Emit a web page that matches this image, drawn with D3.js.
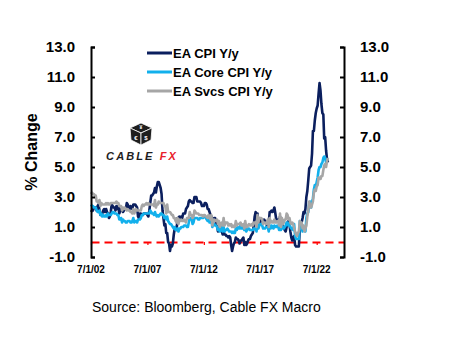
<!DOCTYPE html>
<html>
<head>
<meta charset="utf-8">
<script src="https://cdn.jsdelivr.net/npm/d3@7"></script>
<style>
  html, body { margin: 0; padding: 0; background: #fff; }
  svg { display: block; font-family: "Liberation Sans", Arial, sans-serif; }
</style>
</head>
<body>
<svg id="chart" width="454" height="341"></svg>
<script>
// ---------- DATA (monthly, starting Jul 2002) ----------
const startMonth = "2002-07-01";
const seriesNames = ["EA CPI Y/y", "EA Core CPI Y/y", "EA Svcs CPI Y/y"];
const xTickLabels = ["7/1/02", "7/1/07", "7/1/12", "7/1/17", "7/1/22"];
const yTickValues = [-1, 1, 3, 5, 7, 9, 11, 13];

const cpiValues = [
  2.0, 2.1, 2.1, 2.3, 2.3, 2.3,
  2.1, 2.4, 2.5, 2.1, 1.8, 1.9, 1.9, 2.1, 2.2, 2.0, 2.2, 2.0,
  1.9, 1.6, 1.7, 2.0, 2.5, 2.4, 2.3, 2.3, 2.1, 2.4, 2.2, 2.4,
  1.9, 2.1, 2.2, 2.1, 2.0, 2.1, 2.2, 2.2, 2.6, 2.5, 2.3, 2.2,
  2.4, 2.3, 2.2, 2.5, 2.5, 2.5, 2.4, 2.3, 1.7, 1.6, 1.9, 1.9,
  1.8, 1.8, 1.9, 1.9, 1.9, 1.9, 1.8, 1.7, 2.1, 2.6, 3.1, 3.1,
  3.2, 3.3, 3.6, 3.3, 3.7, 4.0, 4.0, 3.8, 3.6, 3.2, 2.1, 1.6,
  1.1, 1.2, 0.6, 0.6, 0.0, -0.1, -0.6, -0.2, -0.3, -0.1, 0.5, 0.9,
  1.0, 0.8, 1.6, 1.6, 1.7, 1.5, 1.7, 1.6, 1.9, 1.9, 1.9, 2.2,
  2.3, 2.4, 2.7, 2.8, 2.7, 2.7, 2.6, 2.6, 3.0, 3.0, 3.0, 2.7,
  2.7, 2.7, 2.7, 2.6, 2.4, 2.4, 2.4, 2.6, 2.6, 2.5, 2.2, 2.2,
  2.0, 1.8, 1.7, 1.2, 1.4, 1.6, 1.6, 1.3, 1.1, 0.7, 0.9, 0.8,
  0.8, 0.7, 0.5, 0.7, 0.5, 0.5, 0.4, 0.4, 0.3, 0.4, 0.3, -0.2,
  -0.6, -0.3, -0.1, 0.0, 0.3, 0.2, 0.2, 0.1, -0.1, 0.1, 0.1, 0.2,
  0.3, -0.2, 0.0, -0.2, -0.1, 0.1, 0.2, 0.2, 0.4, 0.5, 0.6, 1.1,
  1.7, 2.0, 1.5, 1.9, 1.4, 1.3, 1.3, 1.5, 1.5, 1.4, 1.5, 1.4,
  1.3, 1.1, 1.4, 1.3, 2.0, 2.0, 2.1, 2.0, 2.1, 2.3, 1.9, 1.5,
  1.4, 1.5, 1.4, 1.7, 1.2, 1.3, 1.0, 1.0, 0.8, 0.7, 1.0, 1.3,
  1.4, 1.2, 0.7, 0.3, 0.1, 0.3, 0.4, -0.2, -0.3, -0.3, -0.3, -0.3,
  0.9, 0.9, 1.3, 1.6, 2.0, 1.9, 2.2, 3.0, 3.4, 4.1, 4.9, 5.0,
  5.1, 5.9, 7.4, 7.4, 8.1, 8.6, 8.9, 9.1, 9.9, 10.6, 10.1, 9.2,
  8.6, 8.5, 6.9, 7.0, 6.1, 5.5, 5.3
];

const coreValues = [
  2.5, 2.4, 2.4, 2.3, 2.3, 2.3,
  2.1, 2.0, 2.0, 2.1, 1.8, 1.9, 1.7, 1.8, 1.7, 1.7, 1.8, 1.7,
  1.9, 1.8, 1.8, 1.8, 1.9, 2.0, 2.0, 1.9, 1.9, 1.9, 1.8, 1.8,
  1.5, 1.5, 1.6, 1.3, 1.5, 1.4, 1.4, 1.3, 1.3, 1.4, 1.4, 1.4,
  1.3, 1.3, 1.4, 1.6, 1.3, 1.4, 1.4, 1.3, 1.5, 1.5, 1.5, 1.6,
  1.8, 1.8, 1.9, 1.9, 1.9, 1.9, 1.9, 1.9, 1.9, 2.1, 2.0, 1.9,
  1.9, 1.8, 2.0, 1.8, 1.7, 1.8, 1.7, 1.8, 1.9, 1.9, 1.8, 1.8,
  1.6, 1.7, 1.5, 1.7, 1.4, 1.3, 1.2, 1.2, 1.1, 1.0, 0.9, 1.0,
  0.8, 0.8, 0.9, 0.7, 0.9, 0.9, 1.0, 1.0, 1.0, 1.1, 1.1, 1.1,
  1.0, 1.0, 1.3, 1.6, 1.5, 1.6, 1.2, 1.3, 1.6, 1.6, 1.6, 1.6,
  1.5, 1.5, 1.6, 1.6, 1.6, 1.6, 1.7, 1.7, 1.6, 1.5, 1.4, 1.5,
  1.3, 1.3, 1.5, 1.0, 1.2, 1.2, 1.1, 1.1, 1.0, 0.8, 0.9, 0.7,
  0.8, 1.0, 0.7, 1.0, 0.7, 0.8, 0.8, 0.9, 0.8, 0.7, 0.7, 0.7,
  0.6, 0.7, 0.6, 0.6, 0.9, 0.8, 1.0, 0.9, 0.9, 1.1, 0.9, 0.9,
  1.0, 0.8, 1.0, 0.7, 0.8, 0.9, 0.9, 0.8, 0.8, 0.8, 0.8, 0.9,
  0.9, 0.9, 0.7, 1.2, 0.9, 1.1, 1.2, 1.2, 1.1, 0.9, 0.9, 0.9,
  1.0, 1.0, 1.0, 0.7, 1.1, 0.9, 1.1, 1.0, 0.9, 1.1, 1.0, 1.0,
  1.1, 1.0, 0.8, 1.3, 0.8, 1.1, 0.9, 0.9, 1.0, 1.1, 1.3, 1.3,
  1.1, 1.2, 1.0, 0.9, 0.9, 0.8, 1.2, 0.4, 0.2, 0.2, 0.2, 0.2,
  1.4, 1.1, 0.9, 0.7, 1.0, 0.9, 0.7, 1.6, 1.9, 2.0, 2.6, 2.7,
  2.3, 2.7, 2.9, 3.5, 3.8, 3.7, 4.0, 4.3, 4.8, 5.0, 5.0, 5.2,
  5.3, 5.6, 5.7, 5.6, 5.3, 5.5, 5.5
];

const svcsValues = [
  3.2, 3.3, 3.2, 3.2, 3.1, 3.1,
  2.7, 2.7, 2.6, 2.8, 2.4, 2.6, 2.5, 2.5, 2.5, 2.5, 2.6, 2.5,
  2.6, 2.5, 2.5, 2.6, 2.6, 2.6, 2.6, 2.6, 2.6, 2.7, 2.6, 2.6,
  2.4, 2.4, 2.4, 2.1, 2.3, 2.2, 2.3, 2.2, 2.1, 2.2, 2.1, 2.1,
  2.0, 2.0, 1.9, 2.2, 1.9, 2.1, 2.2, 2.1, 2.1, 2.1, 2.1, 2.1,
  2.4, 2.5, 2.4, 2.5, 2.5, 2.6, 2.5, 2.6, 2.5, 2.5, 2.5, 2.5,
  2.5, 2.4, 2.8, 2.3, 2.5, 2.5, 2.7, 2.6, 2.6, 2.6, 2.6, 2.6,
  2.4, 2.4, 1.9, 2.5, 2.0, 2.0, 2.0, 1.9, 1.8, 1.8, 1.6, 1.6,
  1.4, 1.3, 1.6, 1.2, 1.5, 1.4, 1.5, 1.4, 1.4, 1.5, 1.4, 1.3,
  1.6, 1.6, 1.6, 2.0, 1.8, 1.8, 1.6, 1.7, 2.1, 2.0, 1.9, 1.9,
  1.9, 1.8, 1.8, 1.8, 1.8, 1.7, 1.8, 1.8, 1.7, 1.7, 1.6, 1.8,
  1.6, 1.5, 1.8, 1.1, 1.5, 1.5, 1.4, 1.4, 1.5, 1.2, 1.4, 1.0,
  1.2, 1.3, 1.1, 1.6, 1.1, 1.3, 1.3, 1.3, 1.1, 1.2, 1.1, 1.2,
  1.0, 1.1, 1.0, 1.0, 1.4, 1.1, 1.2, 1.2, 1.2, 1.3, 1.1, 1.1,
  1.2, 0.9, 1.4, 1.0, 1.0, 1.1, 1.2, 1.1, 1.1, 1.2, 1.1, 1.3,
  1.3, 1.3, 1.0, 1.8, 1.3, 1.6, 1.6, 1.6, 1.5, 1.2, 1.3, 1.3,
  1.2, 1.3, 1.5, 1.0, 1.6, 1.3, 1.4, 1.3, 1.3, 1.5, 1.3, 1.3,
  1.4, 1.4, 1.1, 1.9, 1.0, 1.6, 1.2, 1.3, 1.5, 1.5, 1.9, 1.8,
  1.5, 1.6, 1.3, 1.2, 1.3, 1.2, 0.9, 0.7, 0.5, 0.4, 0.6, 0.7,
  1.4, 1.3, 1.3, 0.9, 1.1, 0.7, 0.9, 1.1, 1.7, 2.1, 2.7, 2.4,
  2.3, 2.5, 2.7, 3.3, 3.5, 3.4, 3.7, 3.8, 4.3, 4.3, 4.2, 4.4,
  4.4, 4.8, 5.1, 5.2, 5.0, 5.4, 5.6
];

// ---------- SETUP ----------
const svg = d3.select("#chart");
const colors = ["#0b1f5e", "#12b0ec", "#a6a6a6"];
const fontFam = '"Liberation Sans", Arial, sans-serif';

const parse = d3.timeParse("%Y-%m-%d");
const t0 = parse(startMonth);
const dateAt = i => d3.timeMonth.offset(t0, i);

const x = d3.scaleTime()
  .domain([t0, parse("2024-12-01")])
  .range([91, 344]);
const y = d3.scaleLinear().domain([-1, 13]).range([257, 47]);

const allSeries = [cpiValues, coreValues, svcsValues].map(vals =>
  vals.map((v, i) => ({ date: dateAt(i), value: v })));

const fmt = v => d3.format(".1f")(v).replace("\u2212", "-");

// ---------- ZERO LINE (x axis, red dashed) ----------
const xTickDates = xTickLabels.map(s => d3.timeParse("%m/%d/%y")(s));
const xAxis = d3.axisBottom(x).tickValues(xTickDates).tickSize(3).tickSizeOuter(0).tickFormat("");
const xg = svg.append("g").attr("transform", `translate(0,${y(0)})`).call(xAxis);
xg.select(".domain").attr("stroke", "#ff0000").attr("stroke-width", 1.8).attr("stroke-dasharray", "8,5");
xg.selectAll(".tick line").attr("stroke", "#ff0000").attr("stroke-width", 1.2);

// x tick labels at bottom
svg.append("g").selectAll("text").data(xTickDates).join("text")
  .attr("x", d => x(d)).attr("y", 273)
  .attr("text-anchor", "middle")
  .attr("font-family", fontFam).attr("font-weight", "bold").attr("font-size", 10)
  .attr("fill", "#000")
  .text((d, i) => xTickLabels[i]);

// ---------- SERIES ----------
const line = d3.line().x(d => x(d.date)).y(d => y(d.value));
svg.append("g").selectAll("path").data(allSeries).join("path")
  .attr("d", line)
  .attr("fill", "none")
  .attr("stroke", (d, i) => colors[i])
  .attr("stroke-width", 2.6)
  .attr("stroke-linejoin", "round");

// ---------- Y AXES ----------
const yl = svg.append("g").attr("transform", "translate(91,0)")
  .call(d3.axisRight(y).tickValues(yTickValues).tickSize(4).tickSizeOuter(4).tickFormat(""));
const yr = svg.append("g").attr("transform", "translate(344,0)")
  .call(d3.axisLeft(y).tickValues(yTickValues).tickSize(4).tickSizeOuter(4).tickFormat(""));
[yl, yr].forEach(g => {
  g.select(".domain").attr("stroke", "#000").attr("stroke-width", 2);
  g.selectAll(".tick line").attr("stroke", "#000").attr("stroke-width", 2);
});

svg.append("g").selectAll("text").data(yTickValues).join("text")
  .attr("x", 75).attr("y", d => y(d)).attr("dy", "0.36em")
  .attr("text-anchor", "end")
  .attr("font-family", fontFam).attr("font-weight", "bold").attr("font-size", 15)
  .text(fmt);
svg.append("g").selectAll("text").data(yTickValues).join("text")
  .attr("x", 360).attr("y", d => y(d)).attr("dy", "0.36em")
  .attr("text-anchor", "start")
  .attr("font-family", fontFam).attr("font-weight", "bold").attr("font-size", 15)
  .text(fmt);

// y title
svg.append("text")
  .attr("transform", "translate(37,152) rotate(-90)")
  .attr("text-anchor", "middle")
  .attr("font-family", fontFam).attr("font-weight", "bold").attr("font-size", 16)
  .text("% Change");

// ---------- LEGEND ----------
const legendY = [53, 72, 91];
const lg = svg.append("g");
seriesNames.forEach((name, i) => {
  lg.append("line").attr("x1", 147).attr("x2", 172)
    .attr("y1", legendY[i]).attr("y2", legendY[i])
    .attr("stroke", colors[i]).attr("stroke-width", 3);
  lg.append("text").attr("x", 173).attr("y", legendY[i]).attr("dy", "0.36em")
    .attr("font-family", fontFam).attr("font-weight", "bold").attr("font-size", 13)
    .text(name);
});

// ---------- LOGO ----------
const logo = svg.append("g");
const cx = 141;
const P = {
  top: [cx, 123], ul: [cx - 11, 128], ur: [cx + 11, 128], c: [cx, 133],
  ll: [cx - 10, 140], lr: [cx + 10, 140], b: [cx, 145]
};
const face = pts => "M" + pts.map(p => p.join(",")).join("L") + "Z";
logo.append("path").attr("d", face([P.top, P.ur, P.c, P.ul])).attr("fill", "#1e1e1e").attr("stroke", "#fff").attr("stroke-width", 0.8);
logo.append("path").attr("d", face([P.ul, P.c, P.b, P.ll])).attr("fill", "#1e1e1e").attr("stroke", "#fff").attr("stroke-width", 0.8);
logo.append("path").attr("d", face([P.ur, P.c, P.b, P.lr])).attr("fill", "#1e1e1e").attr("stroke", "#fff").attr("stroke-width", 0.8);
logo.append("text").attr("x", cx - 5).attr("y", 140).attr("text-anchor", "middle")
  .attr("font-family", fontFam).attr("font-size", 6).attr("font-weight", "bold").attr("fill", "#fff").text("€");
logo.append("text").attr("x", cx + 5).attr("y", 140).attr("text-anchor", "middle")
  .attr("font-family", fontFam).attr("font-size", 6).attr("font-weight", "bold").attr("fill", "#fff").text("$");
logo.append("text").attr("x", cx).attr("y", 129).attr("text-anchor", "middle")
  .attr("font-family", fontFam).attr("font-size", 5).attr("font-weight", "bold").attr("fill", "#fff").text("¥");
const logoText = logo.append("text").attr("x", cx + 1).attr("y", 160).attr("text-anchor", "middle")
  .attr("font-family", fontFam).attr("font-size", 11).attr("font-style", "italic")
  .attr("font-weight", "bold").attr("letter-spacing", 2.1);
logoText.append("tspan").attr("fill", "#1e1e1e").text("CABLE ");
logoText.append("tspan").attr("fill", "#e8202a").text("FX");

// ---------- SOURCE ----------
svg.append("text").attr("x", 92).attr("y", 312)
  .attr("font-family", fontFam).attr("font-size", 14).attr("fill", "#000")
  .text("Source: Bloomberg, Cable FX Macro");
</script>
</body>
</html>
